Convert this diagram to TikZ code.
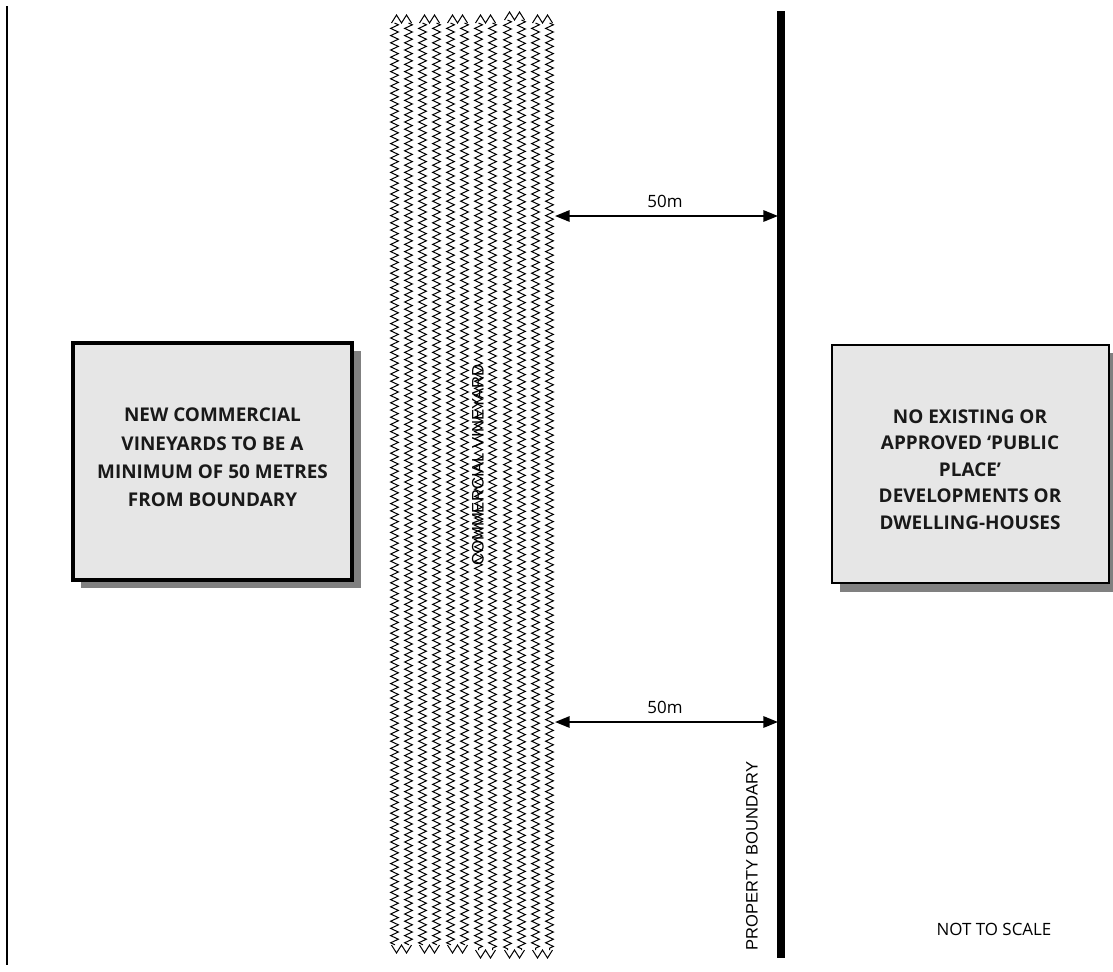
\documentclass[tikz,border=0pt]{standalone}
\usepackage{fontspec}
\setmainfont{Open Sans}
\newfontfamily\arialf{Liberation Sans}
\usetikzlibrary{arrows.meta,decorations.pathmorphing}
\definecolor{boxfill}{RGB}{230,230,230}
\definecolor{shadowc}{RGB}{128,128,128}
\tikzset{
  zig/.style={line width=0.75pt, decorate, decoration={zigzag, amplitude=2.9pt, segment length=5.4pt}},
  rowcap/.style={line width=0.75pt, line join=miter},
  dim/.style={line width=1.5pt, {Triangle[length=11pt,width=8.5pt]}-{Triangle[length=11pt,width=8.5pt]}},
  bigbox/.style={fill=boxfill, draw=black},
  boxtext/.style={align=center, text=black!90},
  lbl/.style={font=\fontsize{12.7pt}{15pt}\selectfont, inner sep=0pt},
}
\begin{document}
\begin{tikzpicture}[x=0.75pt,y=-0.75pt]
\useasboundingbox (0,0) rectangle (1113,971);
% left edge line
\draw[line width=1.6pt] (7,6) coordinate (l1) -- (7,965) coordinate (l2);
% vineyard rows
\foreach \cx/\t/\b in {401.5/15/953, 429.5/15/953, 457.5/15/953, 485.5/15/958, 514.5/12/958, 542.5/15/958}{
  \draw[zig] ({\cx-7},{\t+8}) -- ({\cx-7},{\b-8});
  \draw[zig] ({\cx+7},{\t+8}) -- ({\cx+7},{\b-8});
  \draw[rowcap] ({\cx-10},{\t+8}) -- ({\cx-5},{\t}) -- ({\cx},{\t+8}) -- ({\cx+5},{\t}) -- ({\cx+10},{\t+8});
  \draw[rowcap] ({\cx-10},{\b-8}) -- ({\cx-5},{\b}) -- ({\cx},{\b-8}) -- ({\cx+5},{\b}) -- ({\cx+10},{\b-8});
}
\node[font=\arialf\fontsize{12.5pt}{14pt}\selectfont, rotate=90, inner sep=0pt] (cv) at (478,465) {COMMERCIAL VINEYARD};
% property boundary
\draw[line width=6pt] (781,11) coordinate (pb1) -- (781,958) coordinate (pb2);
\node[font=\arialf\fontsize{12.4pt}{14pt}\selectfont, rotate=90, inner sep=0pt] (pbl) at (752,856) {PROPERTY BOUNDARY};
% dimension arrows
\coordinate (a1) at (555,216);
\coordinate (b1) at (778,216);
\coordinate (a2) at (555,722);
\coordinate (b2) at (778,722);
\draw[dim] (a1) -- (b1);
\draw[dim] (a2) -- (b2);
\node[lbl] (d1) at (665,201) {50m};
\node[lbl] (d2) at (665,707) {50m};
% left box
\fill[shadowc] (81,351) rectangle (361,588);
\draw[bigbox, line width=3pt] (73,343) rectangle (352,580);
\node[boxtext, font=\fontsize{14.2pt}{21.2pt}\selectfont\bfseries] (lt) at (212.5,457.5) {NEW COMMERCIAL\\VINEYARDS TO BE A\\MINIMUM OF 50 METRES\\FROM BOUNDARY};
% right box
\fill[shadowc] (840,353) rectangle (1118,592);
\draw[bigbox, line width=1.5pt] (832,345) rectangle (1109,583);
\node[boxtext, font=\fontsize{14.2pt}{19.8pt}\selectfont\bfseries] (rt) at (970,469.5) {NO EXISTING OR\\APPROVED `PUBLIC\\PLACE'\\DEVELOPMENTS OR\\DWELLING-HOUSES};
% not to scale
\node[lbl] (nts) at (994,929.5) {NOT TO SCALE};
\end{tikzpicture}
\end{document}
